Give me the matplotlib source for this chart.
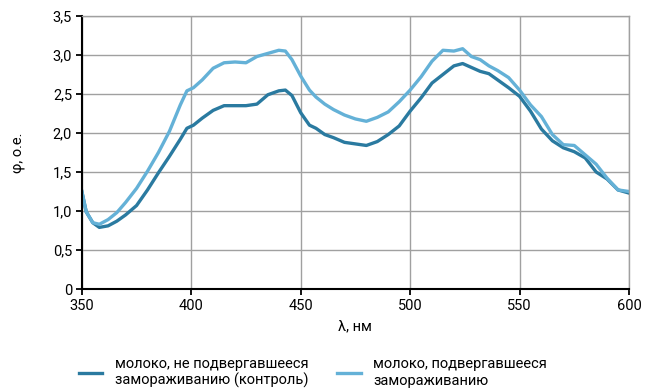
import matplotlib
matplotlib.use("Agg")
import matplotlib.pyplot as plt
from matplotlib.ticker import FuncFormatter

plt.rcParams['font.family'] = ['Roboto', 'DejaVu Sans']

# длина волны, нм
wl = [350, 352, 355, 358, 362, 366, 370, 375, 380, 385, 390, 395, 398, 401,
      405, 410, 415, 420, 425, 430, 435, 440, 443, 446, 450, 454, 457, 461,
      465, 470, 475, 480, 485, 490, 495, 500, 505, 510, 515, 520, 524, 528,
      532, 536, 540, 545, 550, 555, 560, 565, 570, 575, 580, 585, 590, 595, 600]

# контроль
control = [1.25, 0.99, 0.85, 0.79, 0.81, 0.87, 0.95, 1.07, 1.27, 1.49, 1.70,
           1.92, 2.06, 2.10, 2.19, 2.29, 2.35, 2.35, 2.35, 2.37, 2.49, 2.54,
           2.55, 2.48, 2.26, 2.10, 2.06, 1.98, 1.94, 1.88, 1.86, 1.84, 1.89,
           1.98, 2.09, 2.28, 2.45, 2.64, 2.75, 2.86, 2.89, 2.84, 2.79, 2.76,
           2.68, 2.58, 2.47, 2.28, 2.05, 1.90, 1.81, 1.76, 1.68, 1.50, 1.41,
           1.27, 1.23]

# после замораживания
frozen = [1.25, 0.99, 0.85, 0.83, 0.89, 0.98, 1.11, 1.29, 1.51, 1.75, 2.02,
          2.36, 2.54, 2.58, 2.68, 2.83, 2.90, 2.91, 2.90, 2.98, 3.02, 3.06,
          3.05, 2.94, 2.73, 2.55, 2.46, 2.37, 2.30, 2.23, 2.18, 2.15, 2.20,
          2.27, 2.40, 2.55, 2.72, 2.92, 3.06, 3.05, 3.08, 2.98, 2.94, 2.86,
          2.80, 2.71, 2.55, 2.36, 2.21, 1.98, 1.85, 1.84, 1.72, 1.60, 1.42,
          1.27, 1.25]

labels = ['молоко, не подвергавшееся\nзамораживанию (контроль)',
          'молоко, подвергавшееся\nзамораживанию']

fig = plt.figure(figsize=(6.6, 3.89), dpi=100)
ax = fig.add_axes([0.124, 0.257, 0.829, 0.702])

ax.plot(wl, control, color='#2a7aa0', lw=2.4, label=labels[0])
ax.plot(wl, frozen, color='#64b1d7', lw=2.4, label=labels[1])

ax.set_xlim(350, 600)
ax.set_ylim(0, 3.5)
ax.set_xticks(range(350, 601, 50))
ax.set_yticks([0, 0.5, 1, 1.5, 2, 2.5, 3, 3.5])
ax.yaxis.set_major_formatter(FuncFormatter(
    lambda v, p: '0' if v == 0 else f'{v:.1f}'.replace('.', ',')))

ax.grid(True, color='#a0a0a0', lw=1)
ax.set_axisbelow(True)
for s in ['top', 'right']:
    ax.spines[s].set_color('#a0a0a0')
    ax.spines[s].set_linewidth(1)
for s in ['left', 'bottom']:
    ax.spines[s].set_color('black')
    ax.spines[s].set_linewidth(1.5)
ax.tick_params(axis='both', labelsize=10.5, length=4, width=1.3, color='black', pad=3)

ax.set_xlabel('λ, нм', fontsize=10.5, labelpad=5)
ax.set_ylabel('φ, о.е.', fontsize=10.5, labelpad=20)

fig.legend(loc='upper center', bbox_to_anchor=(0.474, 0.117), ncol=2,
           frameon=False, fontsize=10.5, handlelength=1.6, handletextpad=0.85,
           columnspacing=2.0)

fig.savefig('out.png', dpi=100)
